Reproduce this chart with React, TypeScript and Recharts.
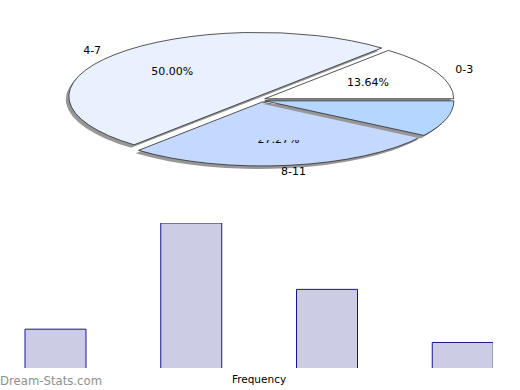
import { Bar, BarChart, Pie, PieChart, XAxis, YAxis } from 'recharts'

const categories = ['0-3', '4-7', '8-11', '12-15']
const frequencies = [3, 11, 6, 2]

const SLICE_COLORS = ['#ffffff', '#eaf1fe', '#c5d9fe', '#b4d6ff']
// px each slice is pulled out along its middle angle
const EXPLODE = [3, 5.5, 2, 3]
// the reference only names these slices
const NAMED = ['0-3', '4-7', '8-11']
// the 8-11 percentage is half covered in the reference
const HALF_HIDDEN = ['8-11']

const FLAT = 64 / 189
const SHADOW = { dx: -3, dy: 3, fill: '#979797' }
const OUTLINE = '#2b2b2b'
const FONT = '"DejaVu Sans", sans-serif'

const pieData = categories.map((name, i) => ({ name, value: frequencies[i] }))
const barData = categories.map((name, i) => ({ name, frequency: frequencies[i] }))

function pt(cx: number, cy: number, rx: number, ry: number, deg: number) {
  const r = (deg * Math.PI) / 180
  return [cx + rx * Math.cos(r), cy - ry * Math.sin(r)]
}

function slicePath(cx: number, cy: number, rx: number, ry: number, a0: number, a1: number) {
  const [x0, y0] = pt(cx, cy, rx, ry, a0)
  const [x1, y1] = pt(cx, cy, rx, ry, a1)
  const large = Math.abs(a1 - a0) > 180 ? 1 : 0
  const sweep = a1 > a0 ? 0 : 1
  return `M${cx},${cy} L${x0},${y0} A${rx},${ry} 0 ${large} ${sweep} ${x1},${y1} Z`
}

function sliceCenter(p: any) {
  const name = p.payload?.name ?? p.name
  const i = categories.indexOf(name)
  const mid = (p.startAngle + p.endAngle) / 2
  const d = EXPLODE[i] ?? 0
  const r = (mid * Math.PI) / 180
  return { i, name, mid, x: p.cx + d * Math.cos(r), y: p.cy - d * Math.sin(r) }
}

function EllipseSlice(props: any) {
  const { outerRadius, startAngle, endAngle } = props
  const c = sliceCenter(props)
  const rx = outerRadius
  const ry = outerRadius * FLAT
  const d = slicePath(c.x, c.y, rx, ry, startAngle, endAngle)
  return (
    <g>
      <path d={d} fill={SHADOW.fill} transform={`translate(${SHADOW.dx},${SHADOW.dy})`} />
      <path d={d} fill={SLICE_COLORS[c.i]} stroke={OUTLINE} strokeWidth={0.8} />
    </g>
  )
}

function sliceLabel(props: any) {
  const c = sliceCenter(props)
  if (!NAMED.includes(c.name)) return null
  const rx = props.outerRadius
  const ry = rx * FLAT
  const [px, py] = pt(c.x, c.y, rx * 0.6, ry * 0.6, c.mid)
  const [lx, ly] = pt(c.x, c.y, rx * 1.16, ry * 1.09, c.mid)
  const clipId = `pct-clip-${c.i}`
  const hidden = HALF_HIDDEN.includes(c.name)
  return (
    <g key={`lbl-${c.i}`} fontFamily={FONT} fontSize={11} fill="#000">
      {hidden && (
        <clipPath id={clipId}>
          <rect x={px - 40} y={py} width={80} height={20} />
        </clipPath>
      )}
      <text
        x={px}
        y={py}
        textAnchor="middle"
        dominantBaseline="central"
        clipPath={hidden ? `url(#${clipId})` : undefined}
      >
        {`${(props.percent * 100).toFixed(2)}%`}
      </text>
      <text x={lx} y={ly} textAnchor="middle" dominantBaseline="central">
        {c.name}
      </text>
    </g>
  )
}

export default function App() {
  return (
    <div
      style={{
        position: 'absolute',
        left: 0,
        top: 0,
        width: 520,
        height: 390,
        background: '#fff',
        overflow: 'hidden',
      }}
    >
      <div style={{ position: 'absolute', left: 0, top: 0 }}>
        <PieChart width={520} height={200} margin={{ top: 0, right: 0, bottom: 0, left: 0 }}>
          <Pie
            data={pieData}
            dataKey="value"
            nameKey="name"
            cx={262}
            cy={100}
            outerRadius={189}
            startAngle={0}
            endAngle={360}
            stroke="none"
            shape={EllipseSlice}
            label={sliceLabel}
            labelLine={false}
            isAnimationActive={false}
          />
        </PieChart>
      </div>

      {/* bars are clipped at right and bottom like the reference */}
      <div style={{ position: 'absolute', left: 0, top: 0, width: 493, height: 368, overflow: 'hidden' }}>
        <div style={{ position: 'absolute', left: -12, top: 223 }}>
          <BarChart
            width={543}
            height={146}
            data={barData}
            margin={{ top: 0, right: 0, bottom: 0, left: 0 }}
          >
            <XAxis dataKey="name" hide />
            <YAxis hide domain={[0, 11]} />
            <Bar
              dataKey="frequency"
              fill="#ccccE5"
              stroke="#16168f"
              strokeWidth={1}
              barSize={61}
              isAnimationActive={false}
            />
          </BarChart>
        </div>
      </div>

      <svg
        width={520}
        height={390}
        style={{ position: 'absolute', left: 0, top: 0, pointerEvents: 'none' }}
      >
        <text x={259} y={383} textAnchor="middle" fontFamily={FONT} fontSize={10.5} fill="#000">
          Frequency
        </text>
        <text x={0} y={385} fontFamily={FONT} fontSize={11.7} fill="#8f8f8f">
          Dream-Stats.com
        </text>
      </svg>
    </div>
  )
}
